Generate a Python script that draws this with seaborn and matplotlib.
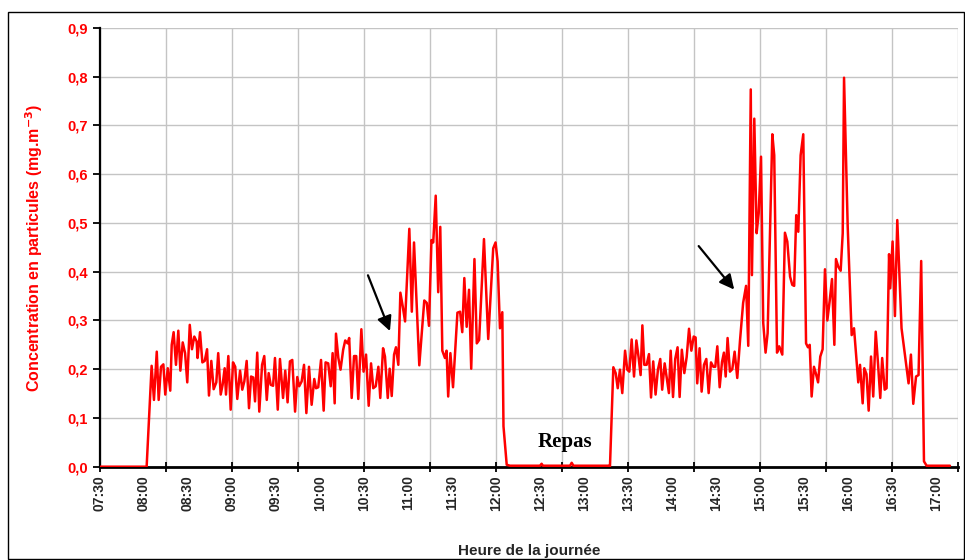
import matplotlib
matplotlib.use("Agg")
import matplotlib.pyplot as plt
from matplotlib.patches import Rectangle
import seaborn as sns

# ==================================================
# Données — minutes écoulées depuis 07:30, concentration (mg.m-3)
# ==================================================
minutes = [
    0.0, 31.8, 35.2, 36.8, 38.7, 40.0, 41.6, 43.2, 44.5, 46.2, 47.9, 48.9, 50.2, 51.8,
    53.4, 54.8, 56.4, 58.0, 59.5, 61.2, 62.7, 64.3, 65.9, 66.5, 68.2, 69.8, 71.4, 73.0,
    74.3, 75.9, 77.5, 79.3, 80.6, 82.3, 83.6, 85.0, 85.9, 87.5, 89.1, 90.7, 92.2, 93.6,
    95.5, 97.0, 98.4, 100.0, 101.6, 103.0, 104.5, 105.7, 107.2, 108.6, 110.5, 112.0,
    113.7, 115.0, 116.4, 118.0, 119.3, 121.2, 122.7, 124.8, 126.3, 127.9, 129.5, 131.1,
    133.0, 134.5, 135.8, 137.5, 139.1, 140.7, 142.5, 144.3, 146.1, 147.3, 148.8, 150.7,
    152.5, 153.8, 155.6, 157.3, 158.6, 160.0, 160.9, 162.5, 164.0, 165.8, 167.2, 168.8,
    169.9, 171.6, 173.2, 174.7, 176.1, 178.2, 179.7, 181.4, 183.2, 184.8, 186.3, 188.0,
    189.8, 191.1, 193.0, 194.3, 196.2, 197.5, 198.9, 200.5, 201.8, 203.4, 204.8, 206.4,
    208.0, 210.9, 212.6, 214.1, 217.7, 221.1, 222.8, 224.3, 226.0, 227.2, 228.9, 230.6,
    232.0, 233.4, 235.2, 236.3, 237.4, 238.9, 240.7, 243.7, 245.5, 247.0, 248.4, 250.0,
    251.6, 253.1, 255.3, 256.9, 258.5, 261.8, 264.7, 268.1, 269.7, 271.1, 272.7, 274.3,
    275.1, 277.3, 279.5, 300.0, 301.1, 302.0, 320.5, 321.6, 322.8, 347.0,
    347.7, 350.0, 351.6, 353.0, 354.5, 356.1, 358.0, 359.5, 360.9, 362.5, 364.1, 365.7,
    367.2, 368.6, 369.8, 371.1, 372.7, 374.3, 375.7, 377.2, 378.8, 380.4, 382.0, 383.3,
    385.0, 386.6, 387.9, 389.1, 390.7, 392.2, 393.8, 395.2, 396.7, 398.4, 400.0, 401.6,
    403.2, 404.8, 406.1, 407.2, 408.8, 410.2, 411.8, 413.4, 415.0, 416.6, 418.2, 419.5,
    420.9, 422.5, 424.1, 425.4, 426.6, 427.9, 429.5, 431.1, 432.7, 434.5, 436.4, 438.5,
    440.5, 442.0, 443.7, 444.5, 446.1, 447.7, 449.1, 450.7, 452.2, 453.8, 455.2, 458.4,
    459.7, 461.6, 463.1, 465.2, 467.0, 468.6, 470.5, 472.0, 473.3, 474.7, 476.1, 477.7,
    479.5, 481.4, 482.7, 483.9, 485.2, 486.8, 488.2, 489.6, 491.1, 492.7, 494.3, 495.9,
    497.5, 499.1, 500.7, 501.8, 503.4, 505.0, 506.4, 507.3, 509.8, 512.5, 514.1, 517.0,
    518.2, 520.0, 521.1, 522.6, 524.1, 525.7, 527.2, 528.9, 530.5, 532.0, 533.3, 535.0,
    536.3, 538.0, 538.8, 540.4, 542.0, 543.6, 546.5, 548.8, 551.3, 552.9, 554.5, 556.4,
    558.1, 559.9, 561.8, 563.6, 579.5,
]
concentration = [
    0.000, 0.000, 0.207, 0.137, 0.236, 0.137, 0.205, 0.210, 0.148, 0.202, 0.156, 0.250, 0.276, 0.209,
    0.279, 0.197, 0.255, 0.233, 0.173, 0.291, 0.241, 0.267, 0.257, 0.223, 0.276, 0.214, 0.217, 0.241,
    0.146, 0.217, 0.159, 0.173, 0.233, 0.148, 0.168, 0.202, 0.148, 0.227, 0.117, 0.214, 0.205, 0.139,
    0.197, 0.158, 0.175, 0.217, 0.120, 0.185, 0.183, 0.134, 0.234, 0.113, 0.209, 0.227,
    0.137, 0.192, 0.168, 0.166, 0.223, 0.117, 0.221, 0.141, 0.197, 0.132, 0.216, 0.219,
    0.113, 0.184, 0.165, 0.175, 0.209, 0.110, 0.205, 0.127, 0.180, 0.161, 0.163, 0.219,
    0.115, 0.214, 0.212, 0.165, 0.233, 0.130, 0.273, 0.223, 0.199, 0.240, 0.259, 0.253,
    0.264, 0.141, 0.227, 0.227, 0.139, 0.282, 0.195, 0.230, 0.125, 0.212, 0.161, 0.165,
    0.205, 0.141, 0.243, 0.226, 0.141, 0.201, 0.145, 0.230, 0.245, 0.209, 0.357, 0.329,
    0.298, 0.488, 0.318, 0.460, 0.208, 0.341, 0.336, 0.289, 0.465, 0.460, 0.556, 0.358,
    0.492, 0.238, 0.223, 0.238, 0.144, 0.233, 0.163, 0.316, 0.318, 0.276, 0.387, 0.287,
    0.363, 0.201, 0.426, 0.253, 0.260, 0.467, 0.262, 0.448, 0.460, 0.421, 0.284, 0.317,
    0.083, 0.004, 0.002, 0.002, 0.006, 0.002, 0.002, 0.008, 0.002, 0.002,
    0.000, 0.204, 0.192, 0.161, 0.199, 0.151, 0.238, 0.199, 0.195, 0.261, 0.185, 0.259,
    0.225, 0.188, 0.290, 0.209, 0.209, 0.231, 0.142, 0.216, 0.148, 0.199, 0.221, 0.158,
    0.212, 0.178, 0.151, 0.238, 0.143, 0.221, 0.245, 0.143, 0.240, 0.192, 0.225, 0.283,
    0.238, 0.267, 0.265, 0.171, 0.243, 0.154, 0.209, 0.221, 0.151, 0.214, 0.205, 0.205,
    0.247, 0.163, 0.215, 0.234, 0.185, 0.264, 0.195, 0.200, 0.236, 0.182, 0.260, 0.336,
    0.371, 0.248, 0.774, 0.393, 0.714, 0.479, 0.520, 0.636, 0.295, 0.234, 0.274, 0.682,
    0.639, 0.234, 0.247, 0.230, 0.480, 0.462, 0.390, 0.373, 0.371, 0.516, 0.482, 0.639,
    0.682, 0.253, 0.245, 0.250, 0.144, 0.205, 0.190, 0.173, 0.226, 0.241, 0.405, 0.300,
    0.340, 0.385, 0.250, 0.426, 0.410, 0.402, 0.479, 0.798, 0.492, 0.270, 0.284, 0.173,
    0.209, 0.130, 0.202, 0.190, 0.115, 0.226, 0.144, 0.277, 0.210, 0.141, 0.223, 0.158,
    0.161, 0.436, 0.366, 0.462, 0.309, 0.506, 0.284, 0.230, 0.171, 0.230, 0.129, 0.185,
    0.188, 0.422, 0.011, 0.002, 0.002,
]

# étiquettes horaires (toutes les 30 min) et quadrillage (toutes les 45 min)
heures = ["07:30", "08:00", "08:30", "09:00", "09:30", "10:00", "10:30", "11:00", "11:30",
          "12:00", "12:30", "13:00", "13:30", "14:00", "14:30", "15:00", "15:30", "16:00",
          "16:30", "17:00"]
pos_heures = [30 * i for i in range(len(heures))]
pos_grille = [45 * i for i in range(14)]
y_ticks = [0.0, 0.1, 0.2, 0.3, 0.4, 0.5, 0.6, 0.7, 0.8, 0.9]

sns.set_style("white")
plt.rcParams["font.family"] = ["Liberation Sans", "DejaVu Sans"]

fig = plt.figure(figsize=(9.65, 5.6), dpi=100)
ax = fig.add_axes([100 / 965, 1 - 466.7 / 560, 858 / 965, (466.7 - 28) / 560])

sns.lineplot(x=minutes, y=concentration, color="red", linewidth=1.8, ax=ax,
             estimator=None, sort=False, zorder=3)

ax.set_xlim(0, 585)
ax.set_ylim(0, 0.9)

# axe des heures : quadrillage toutes les 45 min, étiquettes toutes les 30 min
ax.xaxis.remove_overlapping_locs = False
ax.set_xticks(pos_grille)
ax.set_xticklabels([])
ax.set_xticks(pos_heures, minor=True)
ax.set_xticklabels(heures, minor=True, rotation=90, fontsize=10, fontweight="bold")
ax.tick_params(axis="x", which="major", direction="inout", length=7, width=1.3,
               color="black", bottom=True)
ax.tick_params(axis="x", which="minor", length=0, pad=6)
ax.set_yticks(y_ticks)
ax.set_yticklabels([f"{v:.1f}".replace(".", ",") for v in y_ticks],
                   color="red", fontsize=10.5, fontweight="bold")
ax.tick_params(axis="y", direction="out", length=5, width=1.3, color="black", left=True)
ax.grid(True, which="major", color="#c4c4c4", linewidth=1)
ax.set_axisbelow(True)

for side in ["top", "right"]:
    ax.spines[side].set_visible(False)
ax.spines["left"].set_color("black")
ax.spines["left"].set_linewidth(1.6)
ax.spines["bottom"].set_color("black")
ax.spines["bottom"].set_linewidth(2)

ax.set_ylabel("Concentration en particules (mg.m$^{\\mathbf{-3}}$)", color="red",
              fontsize=11.5, fontweight="bold", labelpad=16)
ax.set_xlabel("Heure de la journée", fontsize=11, fontweight="bold", labelpad=24)

# annotations
ax.text(317, 0.051, "Repas", fontsize=15, fontweight="bold", color="black",
        family=["Liberation Serif", "DejaVu Serif"], ha="center", va="center")
fleche = dict(arrowstyle="-|>", color="black", lw=1.6, mutation_scale=22)
ax.annotate("", xy=(198.4, 0.273), xytext=(182.0, 0.398), arrowprops=fleche)
ax.annotate("", xy=(433.6, 0.359), xytext=(407.0, 0.457), arrowprops=fleche)

# cadre extérieur
fig.patches.append(Rectangle((8 / 965, 0.001), 956 / 965, 1 - 12 / 560 - 0.001,
                             transform=fig.transFigure, fill=False,
                             edgecolor="black", linewidth=1))

fig.savefig("out.png", dpi=100)
